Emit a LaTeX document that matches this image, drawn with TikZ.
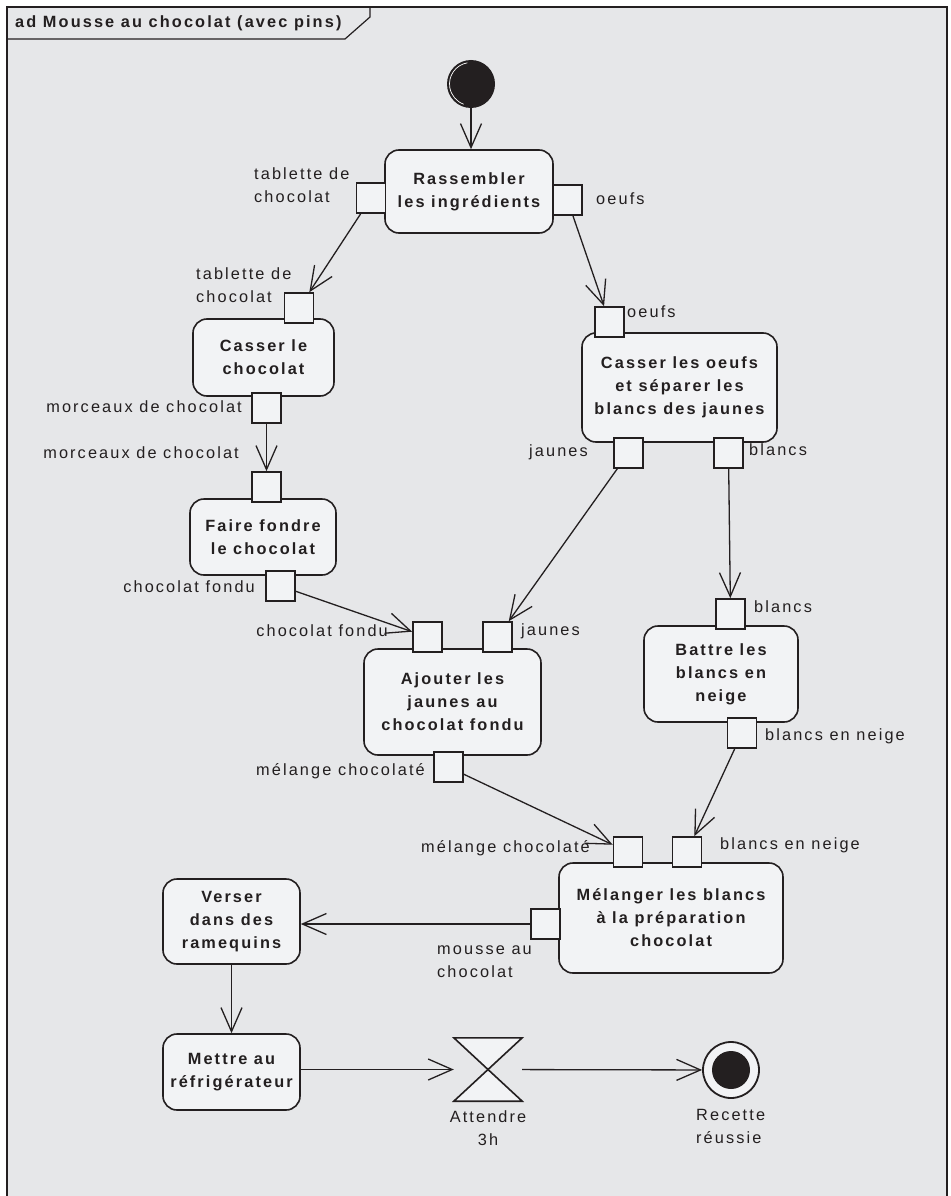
\documentclass[tikz,border=0pt]{standalone}
\usepackage{fontspec}
\setmainfont{Liberation Sans}[LetterSpace=13]
\usetikzlibrary{arrows.meta}
\definecolor{bg}{HTML}{E6E7E9}
\definecolor{boxfill}{HTML}{F2F3F5}
\definecolor{ink}{HTML}{231F20}
\newcommand\dfont{\fontsize{16.3}{23}\selectfont}
\begin{document}
\begin{tikzpicture}[x=1pt,y=-1pt,
  action/.style={draw=ink, line width=1.6pt, fill=boxfill, rounded corners=14pt, align=center,
    font=\dfont\bfseries, text=ink, inner sep=0pt},
  pin/.style={draw=ink, line width=1.6pt, fill=boxfill, minimum width=29pt, minimum height=30pt, inner sep=0pt},
  lbl/.style={text=ink, inner sep=0pt, font=\dfont},
  flow/.style={draw=ink, line width=1.3pt, -{Straight Barb[length=24pt,width=21pt,line width=1.3pt]}}]
\useasboundingbox (0,0) rectangle (950,1196);
% frame
\draw[ink, line width=1.4pt, fill=bg] (7,7) rectangle (947,1210);
\draw[ink, line width=1.2pt] (7,39) -- (345,39) -- (370,17) -- (370,7);
\node[lbl, font=\dfont\bfseries, anchor=west] (title) at (15,23) {ad Mousse au chocolat (avec pins)};

% start
\node[circle, fill=ink, minimum size=48pt, inner sep=0pt] (start) at (471,84) {};
\draw[white, line width=0.7pt] ([shift={(100:21.5pt)}]start.center) arc[start angle=100, end angle=250, radius=21.5pt];

% actions
\node[action, minimum width=168pt, minimum height=83pt] (rass) at (469,191.5) {Rassembler\\les ingrédients};
\node[action, minimum width=141pt, minimum height=77pt] (cchoc) at (263.5,357.5) {Casser le\\chocolat};
\node[action, minimum width=146pt, minimum height=76pt] (faire) at (263,537) {Faire fondre\\le chocolat};
\node[action, minimum width=195pt, minimum height=109pt] (coeufs) at (679.5,387.5) {Casser les oeufs\\et séparer les\\blancs des jaunes};
\node[action, minimum width=177pt, minimum height=106pt] (ajout) at (452.5,702) {Ajouter les\\jaunes au\\chocolat fondu};
\node[action, minimum width=154pt, minimum height=96pt] (battre) at (721,674) {Battre les\\blancs en\\neige};
\node[action, minimum width=224pt, minimum height=110pt] (melang) at (671,918) {Mélanger les blancs\\à la préparation\\chocolat};
\node[action, minimum width=137pt, minimum height=85pt] (verser) at (231.5,921.5) {Verser\\dans des\\ramequins};
\node[action, minimum width=137pt, minimum height=76pt] (mettre) at (231.5,1072) {Mettre au\\réfrigérateur};

% pins
\node[pin] (p1l) at (371,198) {};
\node[pin] (p1r) at (567.5,200) {};
\node[pin] (p2t) at (299,308) {};
\node[pin] (p2b) at (266.5,408) {};
\node[pin] (p3t) at (266.5,487) {};
\node[pin] (p3b) at (280.5,586) {};
\node[pin] (p4t) at (609.5,322) {};
\node[pin] (p4j) at (628.5,453) {};
\node[pin] (p4b) at (728.5,453) {};
\node[pin] (p5c) at (427.5,637) {};
\node[pin] (p5j) at (497.5,637) {};
\node[pin] (p5b) at (448.5,767) {};
\node[pin] (p6t) at (730.5,614) {};
\node[pin] (p6b) at (742,733) {};
\node[pin] (p7m) at (628,852) {};
\node[pin] (p7b) at (687,852) {};
\node[pin] (p7l) at (545.5,924) {};

% hourglass (accept time event)
\node[minimum width=68pt, minimum height=63pt, inner sep=0pt] (hg) at (488,1069.5) {};
\draw[ink, line width=1.6pt, fill=boxfill, line join=miter] (hg.north west) -- (hg.north east) -- (hg.south west) -- (hg.south east) -- cycle;

% final
\node[circle, draw=ink, line width=1.8pt, fill=boxfill, minimum size=56pt, inner sep=0pt] (fin) at (731,1070) {};
\fill[ink] (fin.center) circle (19pt);

% labels
\node[lbl, anchor=west, align=left] (l1) at (254,185) {tablette de\\chocolat};
\node[lbl, anchor=west] (l2) at (596,199) {oeufs};
\node[lbl, anchor=west, align=left] (l3) at (196,285) {tablette de\\chocolat};
\node[lbl, anchor=west] (l4) at (627,312) {oeufs};
\node[lbl, anchor=east] (l5) at (242,407) {morceaux de chocolat};
\node[lbl, anchor=east] (l6) at (239,453) {morceaux de chocolat};
\node[lbl, anchor=east] (l7) at (255,587) {chocolat fondu};
\node[lbl, anchor=east] (l8) at (588,452) {jaunes};
\node[lbl, anchor=west] (l9) at (749,450) {blancs};
\node[lbl, anchor=east] (l10) at (388,631) {chocolat fondu};
\node[lbl, anchor=west] (l11) at (521,631) {jaunes};
\node[lbl, anchor=west] (l12) at (754,607) {blancs};
\node[lbl, anchor=west] (l13) at (765,736) {blancs en neige};
\node[lbl, anchor=east] (l14) at (425,771) {mélange chocolaté};
\node[lbl, anchor=east] (l15) at (590,848) {mélange chocolaté};
\node[lbl, anchor=west] (l16) at (720,845) {blancs en neige};
\node[lbl, anchor=west, align=left] (l17) at (437,962) {mousse au\\chocolat};
\node[lbl, align=center] (l18) at (488,1128) {Attendre\\3h};
\node[lbl, anchor=west, align=left] (l19) at (696,1126) {Recette\\réussie};

% flows
\draw[flow] (start) -- (start |- rass.north);
\draw[flow] (p1l) -- (p2t);
\draw[flow] (p1r) -- (p4t);
\draw[flow] (p2b) -- (p3t);
\draw[flow] (p3b) -- (p5c);
\draw[flow] (p4j) -- (p5j);
\draw[flow] (p4b) -- (p6t);
\draw[flow] (p5b) -- (p7m);
\draw[flow] (p6b) -- (p7b);
\draw[flow] (p7l) -- (p7l -| verser.east);
\draw[flow] (verser) -- (mettre);
\draw[flow] (mettre.east |- hg) -- (hg);
\draw[flow] (hg) -- (fin);
\end{tikzpicture}
\end{document}
